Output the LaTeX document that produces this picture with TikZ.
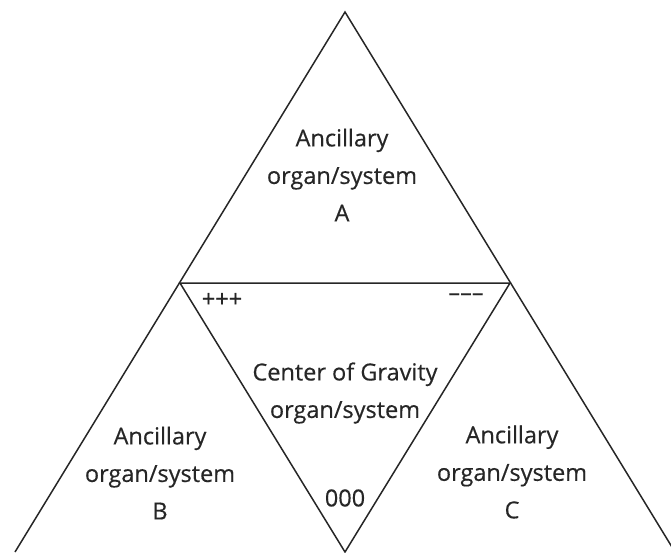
\documentclass[tikz,border=0pt]{standalone}
\usepackage{fontspec}
\setmainfont{Open Sans}
\newfontfamily\labelfont{Open Sans}[FakeBold=0.4]
\usetikzlibrary{positioning}

\begin{document}
\begin{tikzpicture}[x=1pt, y=-1pt,
    every node/.style={font=\labelfont\fontsize{23.5}{37.5}\selectfont,
                       align=center, inner sep=0pt, text=black!85},
    edge/.style={line width=1.5pt, draw=black!85, line join=miter},
    sign/.style={font=\labelfont\fontsize{23.5}{24}\selectfont},
  ]
  \clip (0,0) rectangle (671,552);

  % corners of the big triangle and its midpoints
  \coordinate (top) at (345,12);
  \coordinate (midL) at (180,283);
  \coordinate (midR) at (510,283);
  \coordinate (botL) at (15,552);
  \coordinate (botM) at (345,552);
  \coordinate (botR) at (675,552);

  \draw[edge] (botL) -- (top) -- (botR);
  \draw[edge] (midL) -- (midR) -- (botM) -- cycle;

  \node (ancA) at (342,175) {Ancillary\\organ/system\\A};
  \node (cog) at (345,393) {Center of Gravity\\organ/system};
  \node (ancB) at (160,473) {Ancillary\\organ/system\\B};
  \node (ancC) at (512,472) {Ancillary\\organ/system\\C};

  \node[sign] (plus) at (222,300) {+++};
  \node[sign] (minus) at (466,297) {\textendash\textendash\textendash};
  \node[sign] (zero) at (345,498) {000};
\end{tikzpicture}
\end{document}
